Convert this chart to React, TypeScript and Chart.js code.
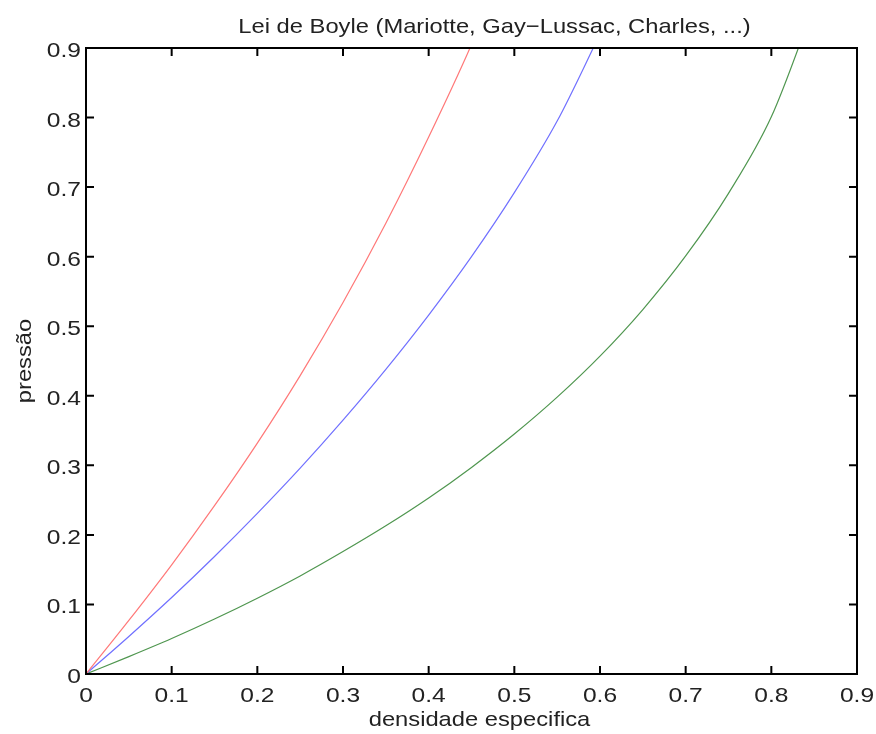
import React, { useEffect, useRef } from "react";
import { Chart, registerables } from "chart.js";

Chart.register(...registerables);

// Specific density (x) sampled every 0.05
const density = [0, 0.05, 0.1, 0.15, 0.2, 0.25, 0.3, 0.35, 0.4, 0.45, 0.5, 0.55, 0.6, 0.65, 0.7, 0.75, 0.8, 0.85];

// Pressure for the three isotherms
const pressureRed = [0, 0.077, 0.157, 0.242, 0.332, 0.429, 0.534, 0.648, 0.772, 0.905, 1.055];
const pressureBlue = [0, 0.054, 0.11, 0.169, 0.231, 0.296, 0.365, 0.438, 0.516, 0.6, 0.692, 0.795, 0.92];
const pressureGreen = [0, 0.025, 0.051, 0.079, 0.109, 0.141, 0.176, 0.213, 0.253, 0.297, 0.345, 0.398, 0.457, 0.524, 0.601, 0.691, 0.801, 0.961];

const tickValues = [0, 0.1, 0.2, 0.3, 0.4, 0.5, 0.6, 0.7, 0.8, 0.9];

const titleText = "Lei de Boyle (Mariotte, Gay\u2212Lussac, Charles, ...)";
const xTitle = "densidade especifica";
const yTitle = "press\u00e3o";

const FONT = "'Liberation Sans', Arial, Helvetica, sans-serif";
const TEXT_COLOR = "#222";
const STRETCH = 1.13;

const toPoints = (ys: number[]) => ys.map((y, i) => ({ x: density[i], y }));
const fmt = (v: number) => String(Math.round(v * 10) / 10);

// Text drawn slightly widened along its reading direction
function drawText(ctx: CanvasRenderingContext2D, text: string, x: number, y: number, align: CanvasTextAlign, sx: number, rotate = 0) {
  ctx.save();
  ctx.translate(x, y);
  if (rotate) ctx.rotate(rotate);
  ctx.scale(sx, 1);
  ctx.textAlign = align;
  ctx.textBaseline = "alphabetic";
  ctx.fillText(text, 0, 0);
  ctx.restore();
}

// Boxed frame with inward ticks on all four sides, tick labels, title and axis labels
const framePlugin = {
  id: "frame",
  afterDraw(chart: any) {
    const { ctx, chartArea, scales } = chart;
    const { left, right, top, bottom } = chartArea;
    const xs = scales.x;
    const ys = scales.y;
    const tickLen = 8;
    ctx.save();
    ctx.strokeStyle = "#000";
    ctx.lineWidth = 2;
    ctx.strokeRect(left, top, right - left, bottom - top);
    ctx.beginPath();
    tickValues.forEach((v) => {
      const px = xs.getPixelForValue(v);
      ctx.moveTo(px, bottom);
      ctx.lineTo(px, bottom - tickLen);
      ctx.moveTo(px, top);
      ctx.lineTo(px, top + tickLen);
      const py = ys.getPixelForValue(v);
      ctx.moveTo(left, py);
      ctx.lineTo(left + tickLen, py);
      ctx.moveTo(right, py);
      ctx.lineTo(right - tickLen, py);
    });
    ctx.stroke();

    ctx.fillStyle = TEXT_COLOR;
    ctx.font = `21px ${FONT}`;
    tickValues.forEach((v) => {
      drawText(ctx, fmt(v), xs.getPixelForValue(v), bottom + 28, "center", 1.17);
      drawText(ctx, fmt(v), left - 5, ys.getPixelForValue(v) + 9, "right", 1.17);
    });

    drawText(ctx, titleText, (left + right) / 2 + 23, top - 15, "center", STRETCH);
    drawText(ctx, xTitle, (left + right) / 2 + 8, bottom + 52, "center", STRETCH);
    drawText(ctx, yTitle, left - 55, (top + bottom) / 2, "center", STRETCH, -Math.PI / 2);
    ctx.restore();
  },
};

export default function App() {
  const canvasRef = useRef<HTMLCanvasElement | null>(null);

  useEffect(() => {
    document.body.style.margin = "0";
    const canvas = canvasRef.current;
    if (!canvas) return;
    const line = (data: { x: number; y: number }[], color: string) => ({
      data,
      borderColor: color,
      borderWidth: 1.2,
      pointRadius: 0,
      cubicInterpolationMode: "monotone" as const,
      fill: false,
    });
    const chart = new Chart(canvas, {
      type: "line",
      data: {
        datasets: [
          line(toPoints(pressureRed), "#ff7878"),
          line(toPoints(pressureBlue), "#7070ff"),
          line(toPoints(pressureGreen), "#4f964f"),
        ],
      },
      options: {
        animation: false,
        responsive: false,
        maintainAspectRatio: false,
        layout: { padding: { top: 48, right: 19, left: 0, bottom: 0 } },
        plugins: { legend: { display: false }, tooltip: { enabled: false }, title: { display: false } },
        scales: {
          x: {
            type: "linear",
            min: 0,
            max: 0.9,
            afterFit: (s: any) => {
              s.height = 60;
            },
            grid: { display: false, drawTicks: false },
            border: { display: false },
            ticks: { display: false },
          },
          y: {
            type: "linear",
            min: 0,
            max: 0.9,
            afterFit: (s: any) => {
              s.width = 86;
            },
            grid: { display: false, drawTicks: false },
            border: { display: false },
            ticks: { display: false },
          },
        },
      },
      plugins: [framePlugin],
    });
    return () => chart.destroy();
  }, []);

  return (
    <div style={{ position: "absolute", left: 0, top: 0, width: 876, height: 734, background: "#fff" }}>
      <canvas ref={canvasRef} width={876} height={734} style={{ width: 876, height: 734 }} />
    </div>
  );
}
